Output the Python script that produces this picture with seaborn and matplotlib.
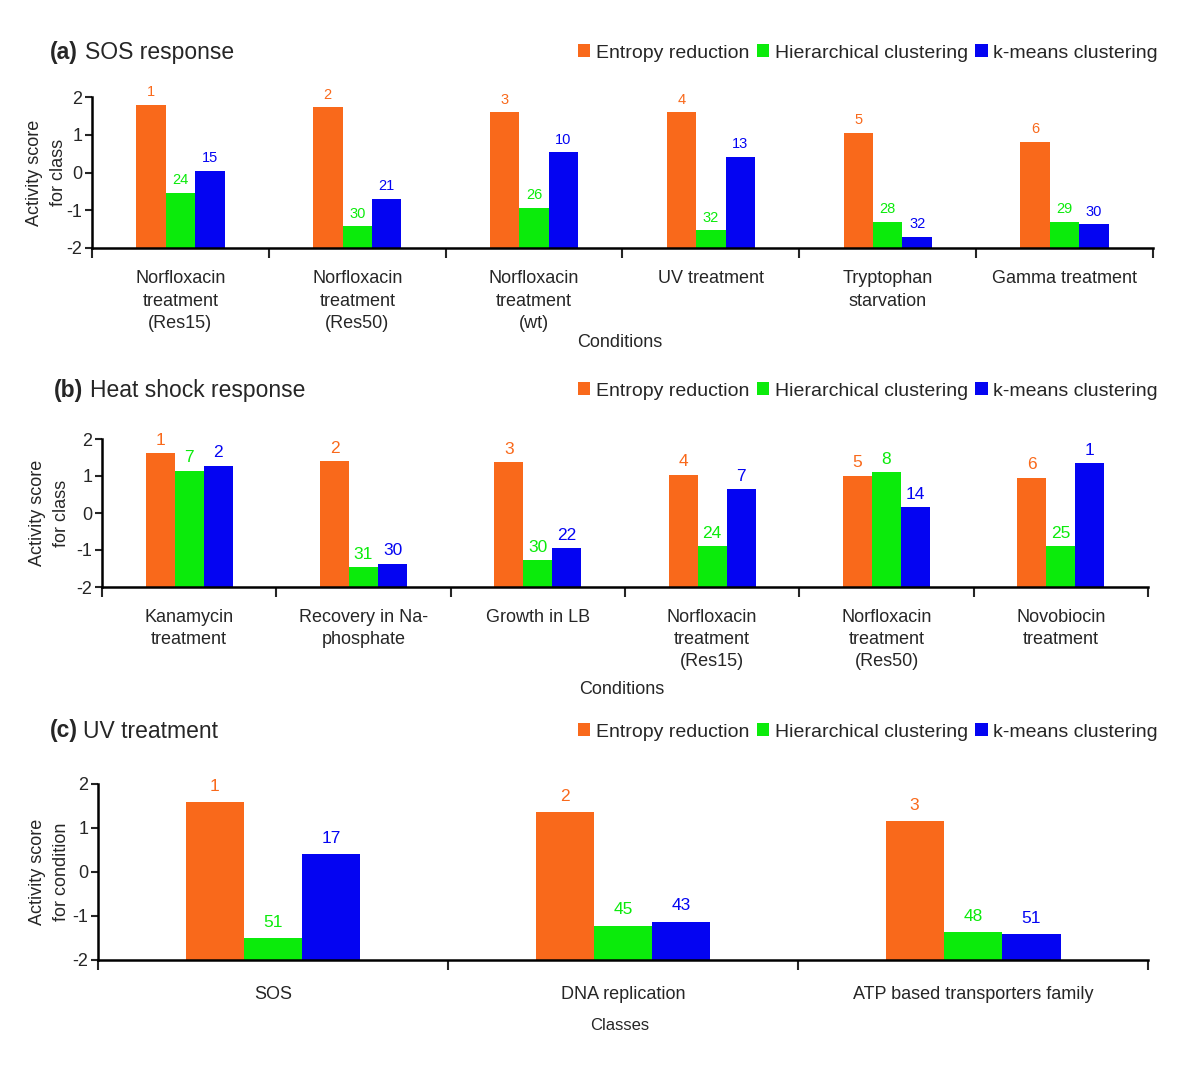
import numpy as np
import pandas as pd
import matplotlib.pyplot as plt
from matplotlib.patches import Patch
import seaborn as sns

sns.set_style("ticks")
plt.rcParams["font.family"] = ["Liberation Sans", "DejaVu Sans"]
plt.rcParams["axes.unicode_minus"] = False

methods = ["Entropy reduction", "Hierarchical clustering", "k-means clustering"]
colors = ["#F9691B", "#0BEB0B", "#0404F2"]
BASE = -2

# (a) SOS response
sos_conditions = ["Norfloxacin\ntreatment\n(Res15)", "Norfloxacin\ntreatment\n(Res50)",
                  "Norfloxacin\ntreatment\n(wt)", "UV treatment",
                  "Tryptophan\nstarvation", "Gamma treatment"]
sos_entropy = [1.79, 1.73, 1.60, 1.60, 1.05, 0.81]
sos_hier = [-0.54, -1.42, -0.94, -1.53, -1.31, -1.31]
sos_kmeans = [0.04, -0.69, 0.53, 0.41, -1.70, -1.37]
sos_rank_entropy = [1, 2, 3, 4, 5, 6]
sos_rank_hier = [24, 30, 26, 32, 28, 29]
sos_rank_kmeans = [15, 21, 10, 13, 32, 30]

# (b) Heat shock response
heat_conditions = ["Kanamycin\ntreatment", "Recovery in Na-\nphosphate", "Growth in LB",
                   "Norfloxacin\ntreatment\n(Res15)", "Norfloxacin\ntreatment\n(Res50)",
                   "Novobiocin\ntreatment"]
heat_entropy = [1.62, 1.40, 1.37, 1.04, 1.00, 0.95]
heat_hier = [1.14, -1.47, -1.28, -0.90, 1.10, -0.90]
heat_kmeans = [1.27, -1.37, -0.95, 0.64, 0.15, 1.34]
heat_rank_entropy = [1, 2, 3, 4, 5, 6]
heat_rank_hier = [7, 31, 30, 24, 8, 25]
heat_rank_kmeans = [2, 30, 22, 7, 14, 1]

# (c) UV treatment
uv_classes = ["SOS", "DNA replication", "ATP based transporters family"]
uv_entropy = [1.58, 1.36, 1.15]
uv_hier = [-1.51, -1.22, -1.37]
uv_kmeans = [0.41, -1.13, -1.41]
uv_rank_entropy = [1, 2, 3]
uv_rank_hier = [51, 45, 48]
uv_rank_kmeans = [17, 43, 51]

W, H = 1200, 1074
fig = plt.figure(figsize=(W / 100, H / 100), dpi=100)


def px_axes(left, right, top, bottom):
    return fig.add_axes([left / W, 1 - bottom / H, (right - left) / W, (bottom - top) / H])


def panel(ax, cats, vals, ranks, ylabel, xlabel, val_size, val_pad, tick_pad, lsp,
          ylab_x, xlab_y, xlab_size):
    n = len(cats)
    df = pd.DataFrame({
        "cat": np.tile(cats, 3),
        "method": np.repeat(methods, n),
        "score": np.concatenate(vals),
    })
    df["height"] = df["score"] - BASE
    sns.barplot(data=df, x="cat", y="height", hue="method", order=cats,
                hue_order=methods, palette=colors, width=0.5, bottom=BASE,
                saturation=1, errorbar=None, legend=False, linewidth=0, ax=ax)
    for cont, c, rk in zip(ax.containers, colors, ranks):
        for bar, r in zip(cont, rk):
            ax.annotate(str(r), (bar.get_x() + bar.get_width() / 2, bar.get_y() + bar.get_height()),
                        xytext=(0, val_pad), textcoords="offset points",
                        ha="center", va="bottom", color=c, fontsize=val_size)
    ax.set_ylim(-2, 2)
    ax.set_yticks([-2, -1, 0, 1, 2])
    ax.set_yticklabels(["-2", "-1", "0", "1", "2"], fontsize=13)
    ax.set_xticks(range(n))
    ax.set_xticklabels(cats, fontsize=13, linespacing=lsp)
    ax.set_xticks(np.arange(-0.5, n, 1), minor=True)
    ax.tick_params(axis="x", which="major", length=0, pad=tick_pad)
    ax.tick_params(axis="x", which="minor", length=7, width=1.5, direction="out")
    ax.tick_params(axis="y", length=5, width=1.5, direction="out", pad=2)
    sns.despine(ax=ax)
    for s in ["left", "bottom"]:
        ax.spines[s].set_linewidth(1.8)
        ax.spines[s].set_color("black")
    ax.set_ylabel(ylabel, fontsize=13, linespacing=1.5)
    ax.yaxis.label.set_va("center")
    ax.yaxis.set_label_coords(ylab_x, 0.5)
    ax.set_xlabel(xlabel, fontsize=xlab_size)
    ax.xaxis.label.set_va("center")
    ax.xaxis.set_label_coords(0.497, xlab_y)


def heading(tag, title, x_tag, x_title, y):
    fig.text(x_tag / W, 1 - y / H, tag, fontsize=16.5, fontweight="bold", va="center")
    fig.text(x_title / W, 1 - y / H, title, fontsize=16.5, va="center")
    handles = [Patch(facecolor=c, edgecolor="none") for c in colors]
    fig.legend(handles, methods, loc="center right", bbox_to_anchor=(1158 / W, 1 - (y + 1) / H),
               ncol=3, frameon=False, fontsize=14, handlelength=0.65, handleheight=0.65,
               handletextpad=0.3, columnspacing=0.35, borderpad=0, borderaxespad=0)


ax_a = px_axes(92, 1153, 97, 248)
panel(ax_a, sos_conditions, [sos_entropy, sos_hier, sos_kmeans],
      [sos_rank_entropy, sos_rank_hier, sos_rank_kmeans],
      "Activity score\nfor class", "Conditions", 10.5, 4, 16, 1.42, -0.043, -0.623, 13)
heading("(a)", "SOS response", 50, 85, 52)

ax_b = px_axes(102, 1148, 439, 587)
panel(ax_b, heat_conditions, [heat_entropy, heat_hier, heat_kmeans],
      [heat_rank_entropy, heat_rank_hier, heat_rank_kmeans],
      "Activity score\nfor class", "Conditions", 12.5, 4, 16, 1.36, -0.05, -0.69, 13)
heading("(b)", "Heat shock response", 54, 90, 390)

ax_c = px_axes(98, 1148, 784, 960)
panel(ax_c, uv_classes, [uv_entropy, uv_hier, uv_kmeans],
      [uv_rank_entropy, uv_rank_hier, uv_rank_kmeans],
      "Activity score\nfor condition", "Classes", 12.5, 6, 19, 1.2, -0.046, -0.375, 12)
heading("(c)", "UV treatment", 50, 83, 731)

fig.savefig("out.png", dpi=100)
